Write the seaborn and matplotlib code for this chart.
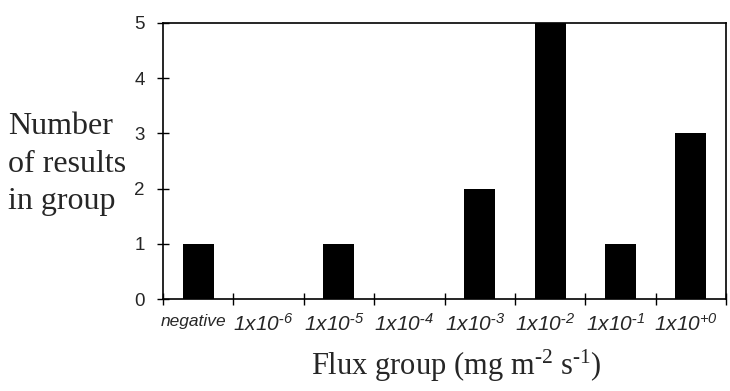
import matplotlib
matplotlib.use("Agg")
import matplotlib.pyplot as plt
import seaborn as sns
import pandas as pd
import numpy as np

categories = ["negative", "1x10^-6", "1x10^-5", "1x10^-4", "1x10^-3",
              "1x10^-2", "1x10^-1", "1x10^+0"]
tick_labels = ["negative",
               r"$\mathsf{1x10}^{\mathsf{\text{-}6}}$",
               r"$\mathsf{1x10}^{\mathsf{\text{-}5}}$",
               r"$\mathsf{1x10}^{\mathsf{\text{-}4}}$",
               r"$\mathsf{1x10}^{\mathsf{\text{-}3}}$",
               r"$\mathsf{1x10}^{\mathsf{\text{-}2}}$",
               r"$\mathsf{1x10}^{\mathsf{\text{-}1}}$",
               r"$\mathsf{1x10}^{\mathsf{+0}}$"]
counts = [1, 0, 1, 0, 2, 5, 1, 3]
y_ticks = [0, 1, 2, 3, 4, 5]

sns.set_style("white")
plt.rcParams["font.family"] = ["Liberation Serif", "DejaVu Serif"]
plt.rcParams["mathtext.fontset"] = "custom"
plt.rcParams["mathtext.rm"] = "Liberation Serif"
plt.rcParams["mathtext.it"] = "Liberation Serif:italic"
plt.rcParams["mathtext.sf"] = "Liberation Sans:italic"

df = pd.DataFrame({"group": categories, "count": counts})

fig = plt.figure(figsize=(7.3, 3.91), dpi=100)
ax = fig.add_axes([163 / 730, 1 - 299 / 391, (726 - 163) / 730, (299 - 23) / 391])

sns.barplot(data=df, x="group", y="count", order=categories, color="black",
            width=0.44, saturation=1, ax=ax, edgecolor="black", linewidth=0)

n = len(categories)
ax.set_xlim(-0.5, n - 0.5)
ax.set_ylim(0, 5)
ax.set_yticks(y_ticks)
ax.set_xticks(np.arange(-0.5, n, 1.0))
ax.set_xticklabels([""] * (n + 1))
# labels sit slightly left of the category centres, as in the reference
ax.set_xticks(np.arange(n) - 0.07, minor=True)
ax.set_xticklabels(tick_labels, minor=True)
for lbl, txt in zip(ax.get_xticklabels(minor=True), tick_labels):
    if txt == "negative":
        lbl.set_fontfamily("Liberation Sans")
        lbl.set_fontstyle("italic")
        lbl.set_fontsize(12.5)
    else:
        lbl.set_fontsize(15)

ax.tick_params(axis="x", which="major", direction="inout", length=8, width=1,
               color="black", bottom=True)
ax.tick_params(axis="x", which="minor", length=0, pad=11, bottom=True)
ax.tick_params(axis="y", which="major", direction="inout", length=8, width=1,
               color="black", left=True, pad=9, labelsize=13.5)
for lbl in ax.get_yticklabels():
    lbl.set_fontfamily("Liberation Sans")

for s in ax.spines.values():
    s.set_visible(True)
    s.set_color("black")
    s.set_linewidth(1.2)

ax.set_xlabel("")
ax.set_ylabel("")

fig.text(8 / 730, 1 - 164 / 391, "Number\nof results\nin group", ha="left",
         va="center", fontsize=23, linespacing=1.38, family="Liberation Serif")
fig.text(456 / 730, 1 - 366 / 391,
         r"Flux group (mg m$^{\text{-}2}$ s$^{\text{-}1}$)",
         ha="center", va="center", fontsize=22, family="Liberation Serif")

fig.savefig("out.png", dpi=100)
